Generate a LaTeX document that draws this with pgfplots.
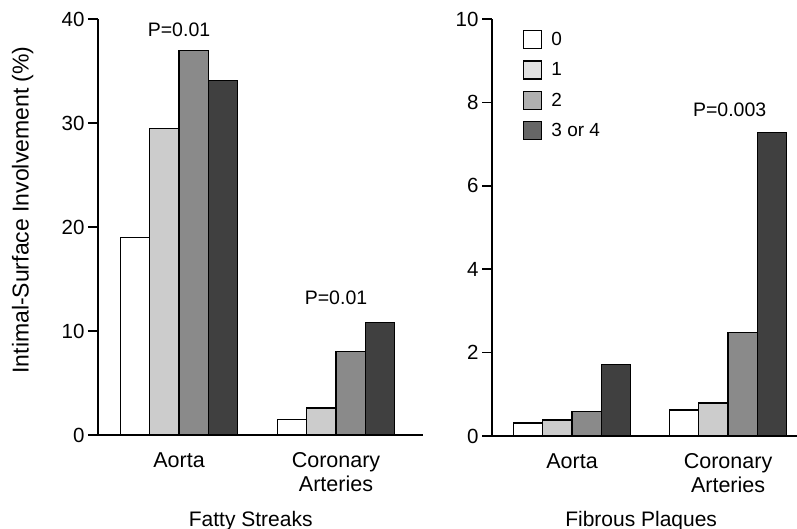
\documentclass[border=0pt]{standalone}
\usepackage{pgfplots}
\pgfplotsset{compat=1.18}
\usepackage{fontspec}
\setmainfont{Liberation Sans}
\definecolor{c1}{HTML}{CCCCCC}
\definecolor{c2}{HTML}{8A8A8A}
\definecolor{c3}{HTML}{404040}
\definecolor{l1}{HTML}{E0E0E0}
\definecolor{l2}{HTML}{B0B0B0}
\definecolor{l3}{HTML}{666666}
\newcommand{\fs}{\fontsize{19.5bp}{23bp}\selectfont}
\newcommand{\ft}{\fontsize{20.5bp}{23bp}\selectfont}
\newcommand{\fl}{\fontsize{21.5bp}{23.5bp}\selectfont}
\newcommand{\fx}{\fontsize{21bp}{23bp}\selectfont}
\newcommand{\fg}{\fontsize{19bp}{22bp}\selectfont}
\pgfplotsset{
  base/.style={
    scale only axis,
    ybar, bar width=29.3bp,
    axis x line=bottom, axis y line=left,
    axis line style={-, line width=1.5bp},
    ymin=0,
    xtick={0,1},
    xticklabels={Aorta,{Coronary\\Arteries}},
    x tick style={draw=none},
    y tick style={line width=1.5bp, black},
    tick align=outside,
    major tick length=10bp,
    x tick label style={font=\fl, align=center, anchor=north, yshift=-4bp},
    y tick label style={font=\ft},
    /pgf/number format/assume math mode=true,
    every axis plot/.append style={draw=black, line width=1.3bp},
    clip=false,
  },
  legbox/.style={legend image code/.code={\draw[##1, line width=1.3bp] (0bp,-9bp) rectangle (18bp,9bp);\path (25bp,0bp);}},
}
\begin{document}
\begin{tikzpicture}[x=1bp,y=1bp]
\useasboundingbox (0,0) rectangle (797,529);
% Left panel: Fatty Streaks
\begin{axis}[base,
  at={(98bp,94bp)}, anchor=south west,
  width=325bp, height=416bp,
  xmin=-0.516, xmax=1.554, ymax=40,
  ytick={0,10,20,30,40},
  ylabel={Intimal-Surface Involvement (\%)},
  ylabel style={font=\fontsize{23bp}{26bp}\selectfont, at={(axis description cs:-0.232,0.541)}, anchor=center},
  xlabel={Fatty Streaks},
  xlabel style={font=\fx, at={(axis description cs:0.47,-0.219)}, anchor=base},
]
\addplot[fill=white, bar shift=-43.95bp] coordinates {(0,19.0) (1,1.5)};
\addplot[fill=c1, bar shift=-14.65bp] coordinates {(0,29.5) (1,2.6)};
\addplot[fill=c2, bar shift=14.65bp] coordinates {(0,37.0) (1,8.0)};
\addplot[fill=c3, bar shift=43.95bp] coordinates {(0,34.1) (1,10.85)};
\node[font=\fs, anchor=base] at (axis cs:0,38.3) {P=0.01};
\node[font=\fs, anchor=base] at (axis cs:1,12.5) {P=0.01};
\end{axis}
% Right panel: Fibrous Plaques
\begin{axis}[base,
  at={(492bp,93bp)}, anchor=south west,
  width=305bp, height=417bp,
  xmin=-0.513, xmax=1.442, ymax=10,
  ytick={0,2,4,6,8,10},
  xlabel={Fibrous Plaques},
  xlabel style={font=\fx, at={(axis description cs:0.489,-0.216)}, anchor=base},
  legend style={draw=none, fill=none, font=\fg, at={(axis description cs:0.1016,0.9736)}, anchor=north west, inner sep=0pt, row sep=11bp, legend cell align=left},
]
\addlegendimage{legbox, fill=white, draw=black}
\addlegendentry{0}
\addlegendimage{legbox, fill=l1, draw=black}
\addlegendentry{1}
\addlegendimage{legbox, fill=l2, draw=black}
\addlegendentry{2}
\addlegendimage{legbox, fill=l3, draw=black}
\addlegendentry{3 or 4}
\addplot[fill=white, bar shift=-43.95bp] coordinates {(0,0.31) (1,0.62)};
\addplot[fill=c1, bar shift=-14.65bp] coordinates {(0,0.38) (1,0.79)};
\addplot[fill=c2, bar shift=14.65bp] coordinates {(0,0.58) (1,2.48)};
\addplot[fill=c3, bar shift=43.95bp] coordinates {(0,1.72) (1,7.28)};
\node[font=\fs, anchor=base] at (axis cs:1.01,7.65) {P=0.003};
\end{axis}
\end{tikzpicture}
\end{document}
